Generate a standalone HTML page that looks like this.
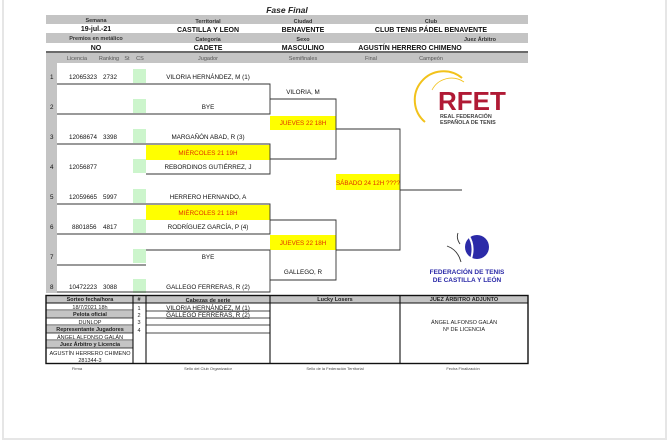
<!DOCTYPE html>
<html><head><meta charset="utf-8"><style>
body{margin:0;background:#fff}
svg{display:block;font-family:"Liberation Sans",sans-serif}
.h{font-size:5.5px;font-weight:bold;fill:#333}
.v{font-size:7px;font-weight:bold;fill:#111}
.c{font-size:5.5px;fill:#555}
.p{font-size:6.3px;fill:#111}
.y{font-size:6.3px;fill:#e03000}
.s{font-size:5.5px;fill:#222}
.f{font-size:4px;fill:#444}
</style></head><body>
<svg width="670" height="442" viewBox="0 0 670 442" xmlns="http://www.w3.org/2000/svg">
<rect x="0" y="0" width="670" height="442" fill="#fff"/>
<rect x="3" y="-2" width="663" height="441" fill="none" stroke="#e6e6e6" stroke-width="2"/>
<text x="287" y="13" font-size="8.5" font-weight="bold" font-style="italic" text-anchor="middle" fill="#222">Fase Final</text>
<rect x="46" y="15" width="482" height="9" fill="#c4c4c4"/>
<rect x="46" y="33" width="482" height="10" fill="#c4c4c4"/>
<rect x="46" y="53" width="482" height="10" fill="#c4c4c4"/>
<line x1="46" y1="52" x2="528" y2="52" stroke="#111" stroke-width="1.2"/>
<rect x="46" y="53" width="11" height="240" fill="#c4c4c4"/>
<g text-anchor="middle">
<text class="h" x="96" y="22">Semana</text><text class="h" x="208" y="23">Territorial</text><text class="h" x="303" y="23">Ciudad</text><text class="h" x="431" y="23">Club</text>
<text class="v" x="96" y="31">19-jul.-21</text><text class="v" x="208" y="32">CASTILLA Y LEON</text><text class="v" x="303" y="32">BENAVENTE</text><text class="v" x="431" y="32">CLUB TENIS PÁDEL BENAVENTE</text>
<text class="h" x="96" y="40">Premios en metálico</text><text class="h" x="208" y="41">Categoría</text><text class="h" x="303" y="41">Sexo</text><text class="h" x="480" y="41">Juez Árbitro</text>
<text class="v" x="96" y="50">NO</text><text class="v" x="208" y="50">CADETE</text><text class="v" x="303" y="50">MASCULINO</text><text class="v" x="410" y="50">AGUSTÍN HERRERO CHIMENO</text>
<text class="c" x="77" y="60">Licencia</text><text class="c" x="109" y="60">Ranking</text><text class="c" x="127" y="60">St</text><text class="c" x="140" y="60">CS</text><text class="c" x="208" y="60">Jugador</text><text class="c" x="303" y="60">Semifinales</text><text class="c" x="371" y="60">Final</text><text class="c" x="431" y="60">Campeón</text>
</g>
<g fill="#ccf5cc">
<rect x="133" y="69" width="13" height="14"/><rect x="133" y="99" width="13" height="14"/><rect x="133" y="129" width="13" height="14"/><rect x="133" y="159" width="13" height="14"/><rect x="133" y="189" width="13" height="14"/><rect x="133" y="219" width="13" height="14"/><rect x="133" y="249" width="13" height="14"/><rect x="133" y="279" width="13" height="14"/>
</g>
<g fill="#ffff00">
<rect x="146" y="145" width="124" height="15"/><rect x="146" y="205" width="124" height="15"/>
<rect x="270" y="116" width="66" height="14"/><rect x="270" y="235" width="66" height="15"/>
<rect x="336" y="174" width="64" height="16"/>
</g>
<g text-anchor="middle">
<text class="y" x="208" y="155">MIÉRCOLES 21   19H</text><text class="y" x="208" y="215">MIÉRCOLES 21   18H</text>
<text class="y" x="303" y="125">JUEVES 22   18H</text><text class="y" x="303" y="245">JUEVES 22   18H</text>
<text class="y" x="368" y="185">SÁBADO 24   12H ????</text>
</g>
<g stroke="#333" stroke-width="0.9" fill="none">
<path d="M57 84H270V114H57"/>
<path d="M57 144H270V174H146"/>
<path d="M57 204H270V234H57"/>
<path d="M146 250H270V292H57M57 265H146"/>
<path d="M270 99H336V159H270"/>
<path d="M270 220H336V280H270"/>
<path d="M336 129H400V250H336"/>
<path d="M400 190H462"/>
</g>
<g class="p">
<text x="50" y="79">1</text><text x="50" y="109">2</text><text x="50" y="139">3</text><text x="50" y="169">4</text><text x="50" y="199">5</text><text x="50" y="229">6</text><text x="50" y="259">7</text><text x="50" y="289">8</text>
<text x="69" y="79">12065323</text><text x="103" y="79">2732</text>
<text x="69" y="139">12068674</text><text x="103" y="139">3398</text>
<text x="69" y="169">12056877</text>
<text x="69" y="199">12059665</text><text x="103" y="199">5997</text>
<text x="72" y="229">8801856</text><text x="103" y="229">4817</text>
<text x="69" y="289">10472223</text><text x="103" y="289">3088</text>
</g>
<g class="p" text-anchor="middle">
<text x="208" y="79">VILORIA HERNÁNDEZ, M (1)</text><text x="208" y="109">BYE</text><text x="208" y="139">MARGAÑÓN ABAD, R (3)</text><text x="208" y="169">REBORDINOS GUTIÉRREZ, J</text>
<text x="208" y="199">HERRERO HERNANDO, A</text><text x="208" y="229">RODRÍGUEZ GARCÍA, P (4)</text><text x="208" y="259">BYE</text><text x="208" y="289">GALLEGO FERRERAS, R (2)</text>
<text x="303" y="94">VILORIA, M</text><text x="303" y="274">GALLEGO, R</text>
</g>
<path d="M425 122A24 24 0 0 1 462 78" stroke="#f2c21b" stroke-width="2" fill="none"/>
<path d="M432 90A22 22 0 0 1 464 82" stroke="#f2c21b" stroke-width="0.8" fill="none"/>
<text x="438" y="110" font-size="26" font-weight="bold" fill="#b01a35">RFET</text>
<text x="440" y="118" font-size="5.4" font-weight="bold" fill="#444">REAL FEDERACIÓN</text>
<text x="440" y="124" font-size="5.4" font-weight="bold" fill="#444">ESPAÑOLA DE TENIS</text>
<circle cx="477" cy="247" r="12" fill="#2b2aa8"/>
<path d="M468 235 Q476 246 470 262" stroke="#fff" stroke-width="2" fill="none"/>
<path d="M447 246 Q458 250 461 262 M458 233 Q456 238 460 244" stroke="#333" stroke-width="0.9" fill="none"/>
<text x="467" y="274" font-size="6.5" font-weight="bold" fill="#2b2aa8" text-anchor="middle">FEDERACIÓN DE TENIS</text>
<text x="467" y="282" font-size="6.5" font-weight="bold" fill="#2b2aa8" text-anchor="middle">DE CASTILLA Y LEÓN</text>
<rect x="46" y="296" width="482" height="7" fill="#c4c4c4"/>
<g fill="#c4c4c4"><rect x="46" y="311" width="87" height="7"/><rect x="46" y="326" width="87" height="7"/><rect x="46" y="341" width="87" height="7"/></g>
<g stroke="#111" fill="none">
<rect x="46" y="295.5" width="482" height="68" stroke-width="1.4"/>
<path d="M133 295V364M146 295V364M270 295V364M400 295V364" stroke-width="1.1"/>
<path d="M46 303H528" stroke-width="0.9"/>
<path d="M46 310H133M46 318H133M46 325H133M46 333H133M46 340H133M46 348H133" stroke-width="0.7"/>
<path d="M146 311H270M146 318H270M146 325H270M146 333H270" stroke-width="0.7"/>
</g>
<g text-anchor="middle">
<text class="s" x="90" y="301" font-weight="bold">Sorteo fecha/hora</text><text class="s" x="139" y="301" font-weight="bold">#</text><text class="s" x="208" y="302" font-weight="bold">Cabezas  de serie</text><text class="s" x="335" y="301" font-weight="bold">Lucky Losers</text><text class="s" x="464" y="301" font-weight="bold">JUEZ ÁRBITRO ADJUNTO</text>
<text class="s" x="90" y="309">18/7/2021  18h</text><text class="s" x="90" y="316" font-weight="bold">Pelota oficial</text><text class="s" x="90" y="324">DUNLOP</text><text class="s" x="90" y="331" font-weight="bold">Representante Jugadores</text><text class="s" x="90" y="339">ÁNGEL ALFONSO GALÁN</text><text class="s" x="90" y="346" font-weight="bold">Juez Árbitro y Licencia</text><text class="s" x="90" y="355">AGUSTÍN HERRERO CHIMENO</text><text class="s" x="90" y="362">281344-3</text>
<text class="s" x="139" y="310">1</text><text class="s" x="139" y="317">2</text><text class="s" x="139" y="324">3</text><text class="s" x="139" y="332">4</text>
<text class="p" x="208" y="310" text-decoration="underline">VILORIA HERNÁNDEZ, M (1)</text><text class="p" x="208" y="317" text-decoration="underline">GALLEGO FERRERAS, R (2)</text>
<text class="s" x="464" y="324">ÁNGEL ALFONSO GALÁN</text><text class="s" x="464" y="331">Nº DE LICENCIA</text>
<text class="f" x="77" y="370">Firma</text><text class="f" x="208" y="370">Sello del Club Organizador</text><text class="f" x="335" y="370">Sello de la Federación Territorial</text><text class="f" x="463" y="370">Fecha Finalización</text>
</g>
</svg>
</body></html>
